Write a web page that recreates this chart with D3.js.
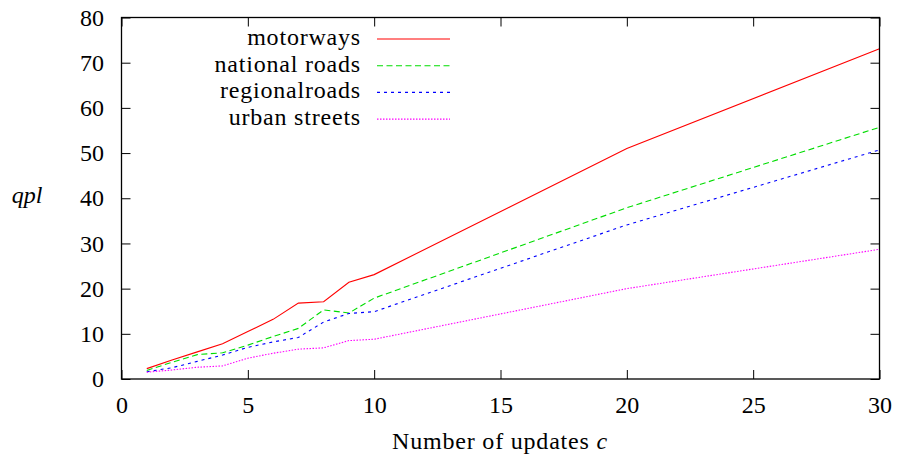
<!DOCTYPE html>
<html><head><meta charset="utf-8">
<script src="https://cdn.jsdelivr.net/npm/d3@7"></script>
<style>body{margin:0;background:#fff}svg{display:block}</style>
</head><body>
<script>
const xs = [1,2,3,4,5,6,7,8,9,10,20,30];
const motorways = [2.3,4.2,6.0,7.8,10.5,13.2,16.8,17.1,21.4,23.1,51.0,73.1];
const nationalRoads = [1.9,3.7,5.4,5.8,7.5,9.4,11.2,15.3,14.6,17.9,37.9,55.7];
const regionalRoads = [1.6,2.5,3.9,5.3,7.0,8.2,9.2,12.6,14.5,14.9,34.1,50.7];
const urbanStreets = [1.5,2.0,2.6,2.9,4.6,5.7,6.6,6.9,8.5,8.8,20.0,28.7];
const xTicks = [0,5,10,15,20,25,30];
const yTicks = [0,10,20,30,40,50,60,70,80];
const seriesNames = ["motorways","national roads","regionalroads","urban streets"];
const seriesValues = [motorways,nationalRoads,regionalRoads,urbanStreets];
const colors = ["#ff0000","#00dd00","#0000ff","#ff00ff"];
const dashes = [null,"6,3.5","3,4","1.5,1.5"];

const W=898,H=460;
const svg=d3.select("body").append("svg").attr("width",W).attr("height",H);
const x=d3.scaleLinear().domain([0,30]).range([121.5,879.5]);
const y=d3.scaleLinear().domain([0,80]).range([379,17.5]);
const FF='"Liberation Serif", "Times New Roman", serif';
const fs="24px";

const line=d3.line().x(d=>x(d[0])).y(d=>y(d[1]));
seriesValues.forEach((vals,i)=>{
  svg.append("path").datum(xs.map((v,j)=>[v,vals[j]]))
    .attr("d",line).attr("fill","none").attr("stroke",colors[i])
    .attr("stroke-width",1.1).attr("stroke-dasharray",dashes[i]);
});

// axes with inward ticks, mirrored
const tl=9;
const axB=d3.axisBottom(x).tickValues(xTicks).tickSize(-tl).tickPadding(17).tickFormat(d3.format("d"));
const axT=d3.axisTop(x).tickValues(xTicks).tickSize(-tl).tickFormat("");
const axL=d3.axisLeft(y).tickValues(yTicks).tickSize(-tl).tickPadding(17.5).tickFormat(d3.format("d"));
const axR=d3.axisRight(y).tickValues(yTicks).tickSize(-tl).tickFormat("");
function style(g){
  g.attr("font-family",null).attr("font-size",null);
  g.select(".domain").remove();
  g.selectAll("line").attr("stroke","#000");
  g.selectAll("text").style("font-family",FF).style("font-size",fs).attr("fill","#000");
}
svg.append("g").attr("transform",`translate(0,${y(0)})`).call(axB).call(style);
svg.append("g").attr("transform",`translate(0,${y(80)})`).call(axT).call(style);
svg.append("g").attr("transform",`translate(${x(0)},0)`).call(axL).call(style);
svg.append("g").attr("transform",`translate(${x(30)},0)`).call(axR).call(style);
svg.append("rect").attr("x",x(0)).attr("y",y(80)).attr("width",x(30)-x(0)).attr("height",y(0)-y(80))
  .attr("fill","none").attr("stroke","#000").attr("stroke-width",1.3);

// legend
seriesNames.forEach((n,i)=>{
  const ly=39+i*26.7;
  svg.append("text").attr("x",361).attr("y",ly+6).attr("text-anchor","end")
    .style("font-family",FF).style("font-size",fs).style("letter-spacing","0.8px").text(n);
  svg.append("line").attr("x1",377).attr("x2",450).attr("y1",ly).attr("y2",ly)
    .attr("stroke",colors[i]).attr("stroke-width",1.1).attr("stroke-dasharray",dashes[i]);
});

// labels
svg.append("text").attr("x",27).attr("y",203).attr("text-anchor","middle")
  .style("font-family",FF).style("font-size",fs).style("font-style","italic").text("qpl");
const xl=svg.append("text").attr("x",500).attr("y",449).attr("text-anchor","middle")
  .style("font-family",FF).style("font-size",fs).style("letter-spacing","0.8px");
xl.append("tspan").text("Number of updates ");
xl.append("tspan").style("font-style","italic").text("c");
</script>
</body></html>
